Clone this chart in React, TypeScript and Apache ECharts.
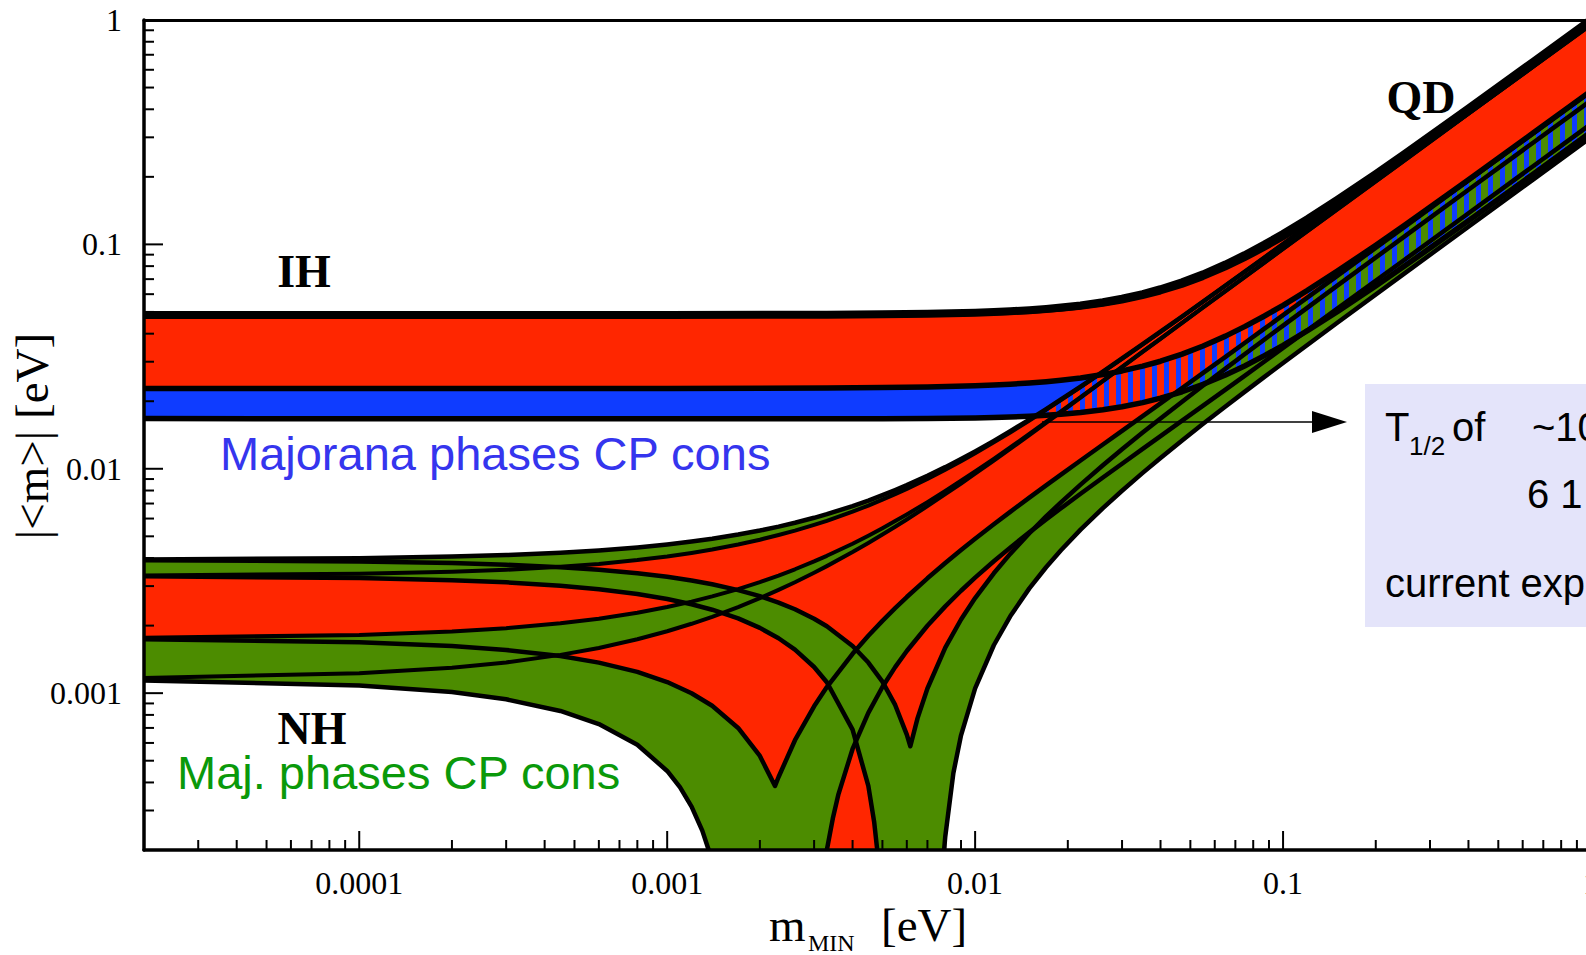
import React, { useEffect, useRef } from "react";
import * as echarts from "echarts";

// ---- axes ----
const X_MIN = 2e-5;
const X_MAX = 1;
const Y_MIN = 2e-4;
const Y_MAX = 1;
const xTickValues = [1e-4, 1e-3, 1e-2, 1e-1, 1];
const xTickLabels = ["0.0001", "0.001", "0.01", "0.1", "1"];
const yTickValues = [1e-3, 1e-2, 1e-1, 1];
const yTickLabels = ["0.001", "0.01", "0.1", "1"];

// ---- Normal hierarchy: boundaries [m_MIN, |<m>|] ----
const nhPHi = [[2e-5,0.003942],[1e-4,0.003995],[2e-4,0.00406],[3e-4,0.004126],[4.5e-4,0.004226],[6e-4,0.004326],[8e-4,0.004462],[1e-3,0.004599],[1.2e-3,0.004737],[1.4e-3,0.004877],[1.7e-3,0.00509],[2e-3,0.005305],[2.3e-3,0.005524],[2.6e-3,0.005746],[3e-3,0.006047],[3.3e-3,0.006276],[4e-3,0.006822],[4.5e-3,0.007219],[5e-3,0.007625],[5.5e-3,0.008036],[6e-3,0.008453],[7e-3,0.009303],[8e-3,0.01017],[9e-3,0.011054],[0.01,0.01195],[0.0115,0.013315],[0.013,0.0147],[0.015,0.016569],[0.017,0.01846],[0.019,0.020365],[0.022,0.02325],[0.026,0.027119],[0.03,0.03102],[0.035,0.03591],[0.04,0.04082],[0.047,0.047727],[0.055,0.05564],[0.065,0.065555],[0.075,0.07549],[0.087,0.087429],[0.1,0.1004],[0.15,0.1503],[0.25,0.2502],[0.4,0.4001],[0.65,0.6501],[1,1.0]];
const nhPLo = [[2e-5,0.003346],[1e-4,0.003404],[2e-4,0.003477],[3e-4,0.003549],[4.5e-4,0.003659],[6e-4,0.003768],[8e-4,0.003917],[1e-3,0.004066],[1.2e-3,0.004216],[1.4e-3,0.004368],[1.7e-3,0.004598],[2e-3,0.00483],[2.3e-3,0.005065],[2.6e-3,0.005301],[3e-3,0.005622],[3.3e-3,0.005864],[4e-3,0.00644],[4.5e-3,0.006857],[5e-3,0.00728],[5.5e-3,0.007708],[6e-3,0.00814],[7e-3,0.009017],[8e-3,0.009909],[9e-3,0.010813],[0.01,0.01173],[0.0115,0.013116],[0.013,0.01452],[0.015,0.016409],[0.017,0.01832],[0.019,0.020235],[0.022,0.02313],[0.026,0.027022],[0.03,0.03093],[0.035,0.035838],[0.04,0.04076],[0.047,0.047673],[0.055,0.05559],[0.065,0.065516],[0.075,0.07546],[0.087,0.087399],[0.1,0.1003],[0.15,0.1502],[0.25,0.2501],[0.4,0.4],[0.65,0.65],[1,1.0]];
const nhQHi = [[2e-5,0.001764],[1e-4,0.001817],[2e-4,0.001882],[3e-4,0.001948],[4.5e-4,0.002048],[6e-4,0.002148],[8e-4,0.002284],[1e-3,0.002421],[1.2e-3,0.002559],[1.4e-3,0.002699],[1.7e-3,0.00291],[2e-3,0.003125],[2.3e-3,0.003344],[2.6e-3,0.003566],[3e-3,0.003865],[3.3e-3,0.004094],[4e-3,0.004636],[4.5e-3,0.005033],[5e-3,0.005435],[5.5e-3,0.005844],[6e-3,0.006259],[7e-3,0.007103],[8e-3,0.007964],[9e-3,0.00884],[0.01,0.009728],[0.0115,0.011079],[0.013,0.01245],[0.015,0.014293],[0.017,0.01616],[0.019,0.018033],[0.022,0.02086],[0.026,0.024659],[0.03,0.02847],[0.035,0.033242],[0.04,0.03802],[0.047,0.044723],[0.055,0.05238],[0.065,0.061961],[0.075,0.07154],[0.087,0.083025],[0.1,0.09547],[0.15,0.1433],[0.25,0.2389],[0.4,0.3824],[0.65,0.6214],[1,0.956]];
const nhQLo = [[2e-5,0.001168],[1e-4,0.001226],[2e-4,0.001299],[3e-4,0.001371],[4.5e-4,0.001481],[6e-4,0.00159],[8e-4,0.001739],[1e-3,0.001888],[1.2e-3,0.002038],[1.4e-3,0.00219],[1.7e-3,0.002418],[2e-3,0.00265],[2.3e-3,0.002885],[2.6e-3,0.003121],[3e-3,0.00344],[3.3e-3,0.003682],[4e-3,0.004254],[4.5e-3,0.004671],[5e-3,0.00509],[5.5e-3,0.005516],[6e-3,0.005946],[7e-3,0.006817],[8e-3,0.007703],[9e-3,0.008599],[0.01,0.009505],[0.0115,0.01088],[0.013,0.01227],[0.015,0.014133],[0.017,0.01601],[0.019,0.017903],[0.022,0.02075],[0.026,0.024562],[0.03,0.02838],[0.035,0.03317],[0.04,0.03796],[0.047,0.044669],[0.055,0.05234],[0.065,0.061922],[0.075,0.0715],[0.087,0.082995],[0.1,0.09544],[0.15,0.1433],[0.25,0.2389],[0.4,0.3824],[0.65,0.6214],[1,0.956]];
const nhRHi = [[2e-5,0.001738],[1e-4,0.001687],[2e-4,0.001622],[3e-4,0.001558],[4.5e-4,0.001463],[6e-4,0.001368],[8e-4,0.001244],[1e-3,0.001121],[1.2e-3,0.000999],[1.4e-3,0.000879],[1.7e-3,0.0007],[2e-3,0.000525],[2.24e-3,0.000386],[2.3e-3,0.000423],[2.6e-3,0.000617],[3e-3,0.000874],[3.3e-3,0.001064],[4e-3,0.001498],[4.5e-3,0.001801],[5e-3,0.0021],[5.5e-3,0.002394],[6e-3,0.002682],[7e-3,0.003249],[8e-3,0.003801],[9e-3,0.004343],[0.01,0.004875],[0.0115,0.005658],[0.013,0.006427],[0.015,0.007437],[0.017,0.008433],[0.019,0.009419],[0.022,0.01089],[0.026,0.012826],[0.03,0.01476],[0.035,0.01716],[0.04,0.01956],[0.047,0.022917],[0.055,0.02675],[0.065,0.031548],[0.075,0.03635],[0.087,0.042111],[0.1,0.04836],[0.15,0.07241],[0.25,0.1206],[0.4,0.1928],[0.65,0.3133],[1,0.482]];
const nhRLoLeft = [[2e-5,0.00114],[1e-4,0.001082],[2e-4,0.001011],[3e-4,0.000939],[4.5e-4,0.000833],[6e-4,0.000728],[8e-4,0.000589],[1e-3,0.00045],[1.1e-3,0.000381],[1.2e-3,0.000312],[1.3e-3,0.000244],[1.364e-3,0.0002]];
const nhRLoRight = [[3.3e-3,0.0002],[3.45e-3,0.000276],[3.6e-3,0.000355],[4e-3,0.000564],[4.5e-3,0.000817],[5e-3,0.001065],[5.5e-3,0.001306],[6e-3,0.001541],[7e-3,0.001997],[8e-3,0.002436],[9e-3,0.00286],[0.01,0.003272],[0.0115,0.003871],[0.013,0.004453],[0.015,0.005207],[0.017,0.005943],[0.019,0.006667],[0.022,0.007737],[0.026,0.009141],[0.03,0.01053],[0.035,0.012258],[0.04,0.01398],[0.047,0.016377],[0.055,0.01912],[0.065,0.022539],[0.075,0.02596],[0.087,0.030075],[0.1,0.03453],[0.15,0.05169],[0.25,0.08606],[0.4,0.1376],[0.65,0.2236],[1,0.344]];
const nhSHi = [[2e-5,0.003916],[1e-4,0.003865],[2e-4,0.0038],[3e-4,0.003736],[4.5e-4,0.003641],[6e-4,0.003546],[8e-4,0.003422],[1e-3,0.003299],[1.2e-3,0.003177],[1.4e-3,0.003057],[1.7e-3,0.00288],[2e-3,0.002705],[2.3e-3,0.002534],[2.6e-3,0.002366],[3e-3,0.002147],[3.3e-3,0.001986],[4e-3,0.001622],[4.5e-3,0.001369],[5e-3,0.001125],[5.5e-3,0.000886],[6e-3,0.000653],[6.16e-3,0.00058],[6.5e-3,0.000772],[7e-3,0.001049],[8e-3,0.001595],[9e-3,0.002129],[0.01,0.002653],[0.0115,0.003422],[0.013,0.004175],[0.015,0.005161],[0.017,0.006131],[0.019,0.007087],[0.022,0.008502],[0.026,0.010366],[0.03,0.01221],[0.035,0.014492],[0.04,0.01676],[0.047,0.019913],[0.055,0.0235],[0.065,0.027954],[0.075,0.03239],[0.087,0.037707],[0.1,0.04345],[0.15,0.06546],[0.25,0.1094],[0.4,0.1751],[0.65,0.2846],[1,0.438]];
const nhSLoLeft = [[2e-5,0.003318],[1e-4,0.00326],[2e-4,0.003189],[3e-4,0.003117],[4.5e-4,0.003011],[6e-4,0.002906],[8e-4,0.002767],[1e-3,0.002628],[1.2e-3,0.00249],[1.4e-3,0.002354],[1.7e-3,0.002154],[2e-3,0.001954],[2.3e-3,0.001757],[2.6e-3,0.001563],[3e-3,0.001308],[3.3e-3,0.001118],[4e-3,0.000688],[4.5e-3,0.000386],[4.7e-3,0.000267],[4.81e-3,0.0002]];
const nhSLoRight = [[7.93e-3,0.0002],[8e-3,0.00023],[8.5e-3,0.000441],[9e-3,0.000649],[0.01,0.00105],[0.0115,0.001635],[0.013,0.002201],[0.015,0.002931],[0.017,0.003641],[0.019,0.004335],[0.022,0.005353],[0.026,0.006681],[0.03,0.007984],[0.035,0.00959],[0.04,0.01118],[0.047,0.013373],[0.055,0.01586],[0.065,0.018945],[0.075,0.02201],[0.087,0.025671],[0.1,0.02962],[0.15,0.04474],[0.25,0.07484],[0.4,0.1199],[0.65,0.1949],[1,0.3]];

// ---- Inverted hierarchy ----
const ihTop = [[2e-5,0.04841],[1e-3,0.04844],[3.3e-3,0.04859],[5e-3,0.04877],[7e-3,0.04904],[0.01,0.04961],[0.0115,0.04995],[0.013,0.05034],[0.015,0.05091],[0.017,0.05156],[0.019,0.05227],[0.022,0.05346],[0.026,0.05525],[0.03,0.05727],[0.035,0.06006],[0.04,0.06312],[0.047,0.06779],[0.055,0.07357],[0.065,0.08133],[0.075,0.08953],[0.087,0.09981],[0.1,0.1113],[0.12,0.1296],[0.15,0.1578],[0.2,0.2059],[0.25,0.2547],[0.4,0.403],[0.65,0.6518],[1,1.0012]];
const ihTopB = [[2e-5,0.04841],[1e-3,0.0484],[3.3e-3,0.04845],[5e-3,0.04855],[7e-3,0.04874],[0.01,0.04917],[0.0115,0.04945],[0.013,0.04977],[0.015,0.05025],[0.017,0.05082],[0.019,0.05144],[0.022,0.05249],[0.026,0.05411],[0.03,0.05595],[0.035,0.05852],[0.04,0.06136],[0.047,0.06572],[0.055,0.07115],[0.065,0.07847],[0.075,0.08623],[0.087,0.09598],[0.1,0.1069],[0.12,0.1243],[0.15,0.1512],[0.2,0.1971],[0.25,0.2437],[0.4,0.3854],[0.65,0.6232],[1,0.9572]];
const ihMid = [[2e-5,0.02277],[1e-3,0.0228],[3.3e-3,0.02289],[5e-3,0.023],[7e-3,0.02315],[0.01,0.02345],[0.0115,0.02363],[0.013,0.02383],[0.015,0.02412],[0.017,0.02445],[0.019,0.02481],[0.022,0.0254],[0.026,0.02629],[0.03,0.02729],[0.035,0.02866],[0.04,0.03015],[0.047,0.03243],[0.055,0.03525],[0.065,0.03901],[0.075,0.04299],[0.087,0.04796],[0.1,0.05353],[0.12,0.06235],[0.15,0.07596],[0.2,0.09917],[0.25,0.1227],[0.4,0.1942],[0.65,0.3142],[1,0.4826]];
const ihLow = [[2e-5,0.01673],[1e-3,0.01671],[3.3e-3,0.0167],[5e-3,0.01671],[7e-3,0.01674],[0.01,0.01685],[0.0115,0.01692],[0.013,0.01701],[0.015,0.01715],[0.017,0.01732],[0.019,0.0175],[0.022,0.01783],[0.026,0.01833],[0.03,0.0189],[0.035,0.01972],[0.04,0.02063],[0.047,0.02204],[0.055,0.0238],[0.065,0.02619],[0.075,0.02872],[0.087,0.03192],[0.1,0.03551],[0.12,0.04124],[0.15,0.05009],[0.2,0.06524],[0.25,0.08064],[0.4,0.1274],[0.65,0.206],[1,0.3164]];

const RED = "#ff2600";
const GREEN = "#4c8c00";
const BLUE = "#0f3cff";
const STRIPE = "#0f3cff";

function minorTicks(min: number, max: number) {
  const out: number[] = [];
  for (let e = -6; e <= 0; e++) {
    for (let k = 2; k <= 9; k++) {
      const v = Number((k * Math.pow(10, e)).toPrecision(3));
      if (v > min * 1.0001 && v < max * 0.9999) out.push(v);
    }
  }
  return out;
}

function stripePattern() {
  const c = document.createElement("canvas");
  c.width = 12;
  c.height = 12;
  const ctx = c.getContext("2d");
  if (ctx) {
    ctx.fillStyle = STRIPE;
    ctx.fillRect(0, 0, 5, 12);
  }
  return { image: c.toDataURL(), repeat: "repeat", imageWidth: 12, imageHeight: 12 };
}

function band(upper: number[][], lower: number[][], fill: any, z: number) {
  const pts = upper.concat(lower.slice().reverse());
  return {
    type: "custom",
    coordinateSystem: "cartesian2d",
    z,
    silent: true,
    clip: true,
    data: [[1e-3, 1e-3]],
    renderItem: (_p: any, api: any) => ({
      type: "polygon",
      shape: { points: pts.map((p) => api.coord(p)) },
      style: { fill, stroke: null, lineWidth: 0 },
    }),
  };
}

function curve(data: number[][], width: number) {
  return {
    type: "line",
    data,
    showSymbol: false,
    symbol: "none",
    silent: true,
    clip: true,
    z: 20,
    lineStyle: { color: "#000", width, join: "round", cap: "butt" },
  };
}

function labelFor(values: number[], labels: string[]) {
  return (v: number) => {
    for (let i = 0; i < values.length; i++) {
      if (Math.abs(Math.log10(v) - Math.log10(values[i])) < 1e-6) return labels[i];
    }
    return "";
  };
}

function txt(x: number, y: number, text: string, font: string, fill = "#000", align = "left", extra: any = {}) {
  return { type: "text", x, y, z: 50, silent: true, style: { text, font, fill, align, verticalAlign: "middle" }, ...extra };
}

export default function App() {
  const ref = useRef<HTMLDivElement>(null);
  useEffect(() => {
    if (!ref.current) return;
    const chart = echarts.init(ref.current, null, { renderer: "svg" });
    const xMinor = minorTicks(X_MIN, X_MAX);
    const yMinor = minorTicks(Y_MIN, Y_MAX);
    const nhLower = nhRLoLeft.concat(nhSLoRight);

    const ticksSeries = {
      type: "custom",
      coordinateSystem: "cartesian2d",
      z: 30,
      silent: true,
      clip: false,
      data: [[1e-3, 1e-3]],
      renderItem: (_p: any, api: any) => {
        const children: any[] = [];
        const addX = (v: number, len: number) => {
          const p = api.coord([v, Y_MIN]);
          children.push({ type: "line", shape: { x1: p[0], y1: p[1], x2: p[0], y2: p[1] - len }, style: { stroke: "#000", lineWidth: 2 } });
        };
        const addY = (v: number, len: number) => {
          const p = api.coord([X_MIN, v]);
          children.push({ type: "line", shape: { x1: p[0], y1: p[1], x2: p[0] + len, y2: p[1] }, style: { stroke: "#000", lineWidth: 2 } });
        };
        xMinor.forEach((v) => addX(v, 10));
        xTickValues.forEach((v) => addX(v, 19));
        yMinor.forEach((v) => addY(v, 10));
        yTickValues.forEach((v) => addY(v, 19));
        return { type: "group", children };
      },
    };

    const serif = '"Liberation Serif", "Times New Roman", serif';
    const sans = '"Liberation Sans", Arial, sans-serif';

    const option: any = {
      animation: false,
      backgroundColor: "#fff",
      grid: { left: 144, top: 20, width: 1447, height: 830, containLabel: false, outerBoundsMode: "none" },
      xAxis: [
        {
          type: "log",
          logBase: 10,
          min: X_MIN,
          max: X_MAX,
          position: "bottom",
          z: 10,
          axisLine: { show: true, onZero: false, lineStyle: { color: "#000", width: 3.5 } },
          axisTick: { show: false },
          minorTick: { show: false },
          splitLine: { show: false },
          axisLabel: {
            margin: 17,
            fontFamily: serif,
            fontSize: 32,
            color: "#000",
            showMinLabel: false,
            formatter: labelFor(xTickValues, xTickLabels),
          },
        },
        {
          type: "log",
          logBase: 10,
          min: X_MIN,
          max: X_MAX,
          position: "top",
          z: 10,
          axisLine: { show: true, onZero: false, lineStyle: { color: "#000", width: 3 } },
          axisTick: { show: false },
          axisLabel: { show: false },
          splitLine: { show: false },
        },
      ],
      yAxis: {
        type: "log",
        logBase: 10,
        min: Y_MIN,
        max: Y_MAX,
        z: 10,
        axisLine: { show: true, onZero: false, lineStyle: { color: "#000", width: 3.5 } },
        axisTick: { show: false },
        minorTick: { show: false },
        splitLine: { show: false },
        axisLabel: {
          margin: 22,
          fontFamily: serif,
          fontSize: 32,
          color: "#000",
          showMinLabel: false,
          formatter: labelFor(yTickValues, yTickLabels),
        },
      },
      series: [
        band(ihTop, ihMid, RED, 2),
        band(ihMid, ihLow, BLUE, 3),
        band(nhPHi, nhLower, RED, 4),
        band(nhPHi, nhPLo, GREEN, 5),
        band(nhQHi, nhQLo, GREEN, 5),
        band(nhRHi, nhRLoLeft.concat(nhRLoRight), GREEN, 5),
        band(nhSHi, nhSLoLeft.concat(nhSLoRight), GREEN, 5),
        band(ihMid, ihLow, stripePattern(), 6),
        curve(nhPHi, 4.5),
        curve(nhPLo, 4),
        curve(nhQHi, 4),
        curve(nhQLo, 4),
        curve(nhRHi, 4.5),
        curve(nhRLoLeft, 4.5),
        curve(nhRLoRight, 4.5),
        curve(nhSHi, 4.5),
        curve(nhSLoLeft, 4.5),
        curve(nhSLoRight, 4.5),
        curve(ihTop, 8),
        curve(ihTopB, 5),
        curve(ihMid, 5.5),
        curve(ihLow, 5.5),
        ticksSeries,
      ],
      graphic: [
        txt(304, 271, "IH", `bold 46px ${serif}`, "#000", "center"),
        txt(1421, 97, "QD", `bold 46px ${serif}`, "#000", "center"),
        txt(312, 728, "NH", `bold 46px ${serif}`, "#000", "center"),
        txt(220, 453, "Majorana phases CP cons", `47px ${sans}`, "#3535ee"),
        txt(177, 772, "Maj. phases CP cons", `47px ${sans}`, "#0a990a"),
        { type: "rect", z: 40, silent: true, shape: { x: 1365, y: 384, width: 240, height: 243 }, style: { fill: "#e4e4fa" } },
        { type: "line", z: 45, silent: true, shape: { x1: 1042, y1: 422, x2: 1316, y2: 422 }, style: { stroke: "#000", lineWidth: 1.5 } },
        { type: "polygon", z: 45, silent: true, shape: { points: [[1347, 422], [1312, 411], [1312, 433]] }, style: { fill: "#000" } },
        txt(1385, 427, "T", `40px ${sans}`),
        txt(1409, 446, "1/2", `26px ${sans}`),
        txt(1452, 427, "of", `40px ${sans}`),
        txt(1532, 427, "~10", `40px ${sans}`),
        txt(1527, 494, "6 1", `40px ${sans}`),
        txt(1385, 583, "current exp", `40px ${sans}`),
        txt(769, 925, "m", `47px ${serif}`),
        txt(808, 943, "MIN", `24px ${serif}`),
        txt(881, 925, "[eV]", `47px ${serif}`),
        txt(32, 436, "|<m>| [eV]", `47px ${serif}`, "#000", "center", { rotation: Math.PI / 2 }),
      ],
    };
    chart.setOption(option);
    return () => chart.dispose();
  }, []);
  return (
    <div
      ref={ref}
      style={{ position: "fixed", left: 0, top: 0, width: 1586, height: 955, background: "#fff" }}
    />
  );
}
